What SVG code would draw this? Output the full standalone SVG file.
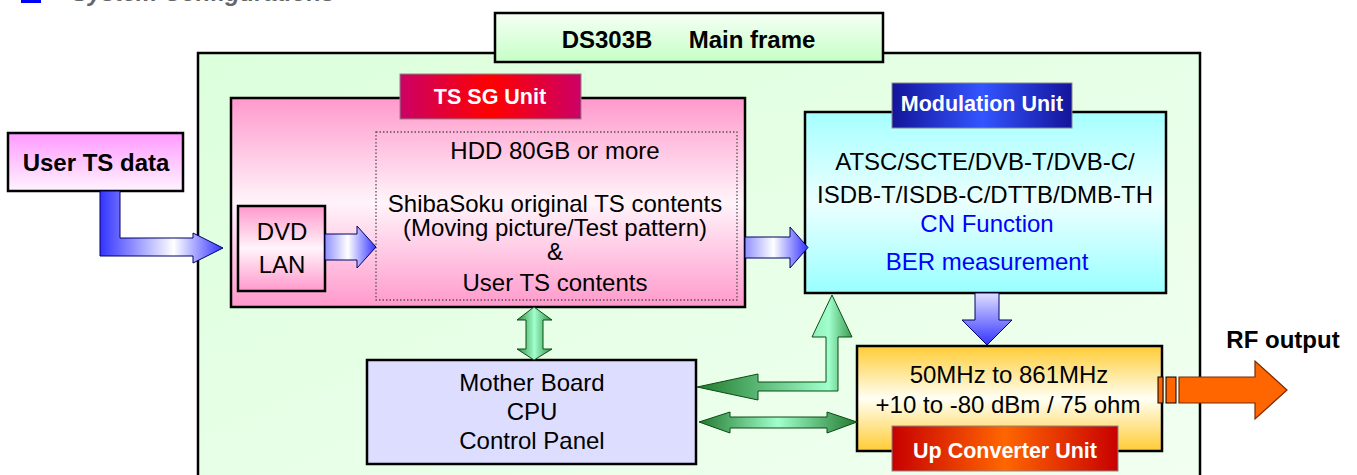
<svg xmlns="http://www.w3.org/2000/svg" width="1357" height="475" viewBox="0 0 1357 475">
<defs>
<linearGradient id="gFrame" x1="0" y1="0" x2="1" y2="1"><stop offset="0" stop-color="#dcffdc"/><stop offset="1" stop-color="#f2fff2"/></linearGradient>
<linearGradient id="gTitle" x1="0" y1="0" x2="0" y2="1"><stop offset="0" stop-color="#f6fff6"/><stop offset="1" stop-color="#c6ffc6"/></linearGradient>
<linearGradient id="gUser" x1="0" y1="0" x2="0" y2="1"><stop offset="0" stop-color="#ff99ff"/><stop offset="1" stop-color="#fff4ff"/></linearGradient>
<linearGradient id="gPink" x1="0" y1="0" x2="0" y2="1"><stop offset="0" stop-color="#ff99cc"/><stop offset="0.5" stop-color="#fff4fa"/><stop offset="1" stop-color="#ff99cc"/></linearGradient>
<linearGradient id="gCyan" x1="0" y1="0" x2="0" y2="1"><stop offset="0" stop-color="#a6ffff"/><stop offset="0.5" stop-color="#ecffff"/><stop offset="1" stop-color="#99ffff"/></linearGradient>
<linearGradient id="gOrange" x1="0" y1="0" x2="0" y2="1"><stop offset="0" stop-color="#ffcc33"/><stop offset="0.5" stop-color="#fffff4"/><stop offset="1" stop-color="#ffcc33"/></linearGradient>
<linearGradient id="gRed" x1="0" y1="0" x2="1" y2="0"><stop offset="0" stop-color="#cc0066"/><stop offset="0.5" stop-color="#ff0000"/><stop offset="1" stop-color="#cc0066"/></linearGradient>
<linearGradient id="gBlueLbl" x1="0" y1="0" x2="1" y2="0"><stop offset="0" stop-color="#14149a"/><stop offset="0.5" stop-color="#3355ff"/><stop offset="1" stop-color="#14149a"/></linearGradient>
<linearGradient id="gUpLbl" x1="0" y1="0" x2="1" y2="0"><stop offset="0" stop-color="#c80000"/><stop offset="0.5" stop-color="#ff6600"/><stop offset="1" stop-color="#c80000"/></linearGradient>
<linearGradient id="gBlueArrow" x1="0" y1="0" x2="1" y2="0"><stop offset="0" stop-color="#9090ff"/><stop offset="0.45" stop-color="#ffffff"/><stop offset="1" stop-color="#3333ff"/></linearGradient>
<linearGradient id="gBlueDown" x1="0" y1="0" x2="0" y2="1"><stop offset="0" stop-color="#e0e0ff"/><stop offset="1" stop-color="#3333ff"/></linearGradient>
<linearGradient id="gBent" gradientUnits="userSpaceOnUse" x1="100" y1="0" x2="223" y2="0"><stop offset="0" stop-color="#3333ff"/><stop offset="0.6" stop-color="#ffffff"/><stop offset="1" stop-color="#3333ff"/></linearGradient>
<linearGradient id="gGreenV" x1="0" y1="0" x2="1" y2="0"><stop offset="0" stop-color="#2e8b3e"/><stop offset="0.5" stop-color="#a0ffcc"/><stop offset="1" stop-color="#2e8b3e"/></linearGradient>
<linearGradient id="gGreenH" x1="0" y1="0" x2="1" y2="0"><stop offset="0" stop-color="#227a2e"/><stop offset="0.5" stop-color="#a0ffcc"/><stop offset="1" stop-color="#227a2e"/></linearGradient>
<linearGradient id="gGreenBent" gradientUnits="userSpaceOnUse" x1="697" y1="0" x2="852" y2="0"><stop offset="0" stop-color="#1f7a2a"/><stop offset="0.85" stop-color="#a0ffcc"/><stop offset="1" stop-color="#3c9a50"/></linearGradient>
<style>
.box{stroke:#000;stroke-width:2.5}
.lbl{stroke:#888;stroke-width:1}
.t{font-family:"Liberation Sans",Arial,sans-serif;font-size:24px;fill:#000;text-anchor:middle}
.tb{font-family:"Liberation Sans",Arial,sans-serif;font-size:24px;font-weight:bold;fill:#000;text-anchor:middle}
.tw{font-family:"Liberation Sans",Arial,sans-serif;font-size:21.5px;font-weight:bold;fill:#fff;text-anchor:middle}
.blue{fill:#0000ff}
.ba{stroke:#000066;stroke-width:1}
.ga{stroke:#0b4d14;stroke-width:1}
</style>
</defs>

<rect x="21" y="-18" width="20" height="21" fill="#0000ff"/>
<text x="72" y="0.5" font-family="Liberation Sans, Arial, sans-serif" font-size="24" font-weight="bold" font-style="italic" fill="#666">System Configurations</text>

<g id="mainframe">
<rect x="198" y="53" width="1002" height="440" fill="url(#gFrame)" class="box"/>
</g>
<g id="title">
<rect x="495" y="13" width="388" height="49" fill="url(#gTitle)" class="box"/>
<text class="tb" y="48" font-size="25.5"><tspan x="607">DS303B</tspan><tspan x="752">Main frame</tspan></text>
</g>

<g id="user-ts">
<rect x="8" y="133" width="175" height="58" fill="url(#gUser)" class="box"/>
<text class="tb" x="96" y="171">User TS data</text>
</g>

<g id="ts-sg-unit">
<rect x="231" y="98" width="514" height="209" fill="url(#gPink)" class="box"/>
<rect x="376" y="132" width="361" height="168" fill="none" stroke="#555" stroke-width="1.3" stroke-dasharray="1.5,2"/>
<text class="t" x="555" y="159">HDD 80GB or more</text>
<text class="t" x="555" y="212">ShibaSoku original TS contents</text>
<text class="t" x="555" y="236">(Moving picture/Test pattern)</text>
<text class="t" x="555" y="260">&amp;</text>
<text class="t" x="555" y="291">User TS contents</text>
<rect x="400" y="74" width="181" height="45" fill="url(#gRed)" class="lbl"/>
<text class="tw" x="490" y="104">TS SG Unit</text>
</g>

<g id="dvd-lan">
<rect x="238" y="206" width="87" height="85" fill="url(#gPink)" class="box"/>
<text class="t" x="282" y="240">DVD</text>
<text class="t" x="282" y="273">LAN</text>
</g>

<g id="modulation-unit">
<rect x="805" y="112" width="361" height="181" fill="url(#gCyan)" class="box"/>
<text class="t" x="985" y="170">ATSC/SCTE/DVB-T/DVB-C/</text>
<text class="t" x="985" y="203">ISDB-T/ISDB-C/DTTB/DMB-TH</text>
<text class="t blue" x="987" y="232">CN Function</text>
<text class="t blue" x="987" y="270">BER measurement</text>
<rect x="892" y="83" width="180" height="45" fill="url(#gBlueLbl)" class="lbl"/>
<text class="tw" x="982" y="111">Modulation Unit</text>
</g>

<g id="mother-board">
<rect x="367" y="360" width="329" height="104" fill="#ddddff" class="box"/>
<text class="t" x="532" y="391">Mother Board</text>
<text class="t" x="532" y="420">CPU</text>
<text class="t" x="532" y="449">Control Panel</text>
</g>

<g id="up-converter-unit">
<rect x="857" y="346" width="305" height="105" fill="url(#gOrange)" class="box"/>
<text class="t" x="1009" y="383" font-size="20.5">50MHz to 861MHz</text>
<text class="t" x="1008" y="413" font-size="20.5">+10 to -80 dBm / 75 ohm</text>
<rect x="892" y="426" width="226" height="45" fill="url(#gUpLbl)" class="lbl"/>
<text class="tw" x="1005" y="458">Up Converter Unit</text>
</g>

<g id="rf-output">
<rect x="1158" y="377" width="5" height="26" fill="#ff6600" stroke="#000" stroke-width="1"/>
<rect x="1166" y="377" width="10" height="26" fill="#ff6600" stroke="#000" stroke-width="1"/>
<text class="tb" x="1283" y="348" font-size="23">RF output</text>
</g>

<g id="connectors">
<polygon class="ba" fill="url(#gBent)" points="100,191 100,256 193,256 193,263 223,248 193,233 193,238 120,238 120,191"/>
<polygon class="ba" fill="url(#gBlueArrow)" points="325,234 357,234 357,226 376,247 357,268 357,260 325,260"/>
<polygon class="ba" fill="url(#gBlueArrow)" points="745,237 790,237 790,227 808,247.5 790,268 790,258 745,258"/>
<polygon class="ba" fill="url(#gBlueDown)" points="975,293 999,293 999,320 1012,320 987,345 962,320 975,320"/>
<polygon class="ga" fill="url(#gGreenV)" points="534,307 552,320 543,320 543,349 552,349 534,360 517,349 526,349 526,320 517,320"/>
<polygon class="ga" fill="url(#gGreenBent)" points="697,387 758,374 758,382 826,382 826,337 812,337 832,295 852,337 838,337 838,391 758,391 758,400"/>
<polygon class="ga" fill="url(#gGreenH)" points="699,422 730,412 730,417 827,417 827,412 857,422 827,433 827,428 730,428 730,433"/>
<polygon fill="#ff6600" stroke="#7a2a00" stroke-width="1.2" points="1179,377 1255,377 1255,361 1287,390 1255,419 1255,403 1179,403"/>
</g>
</svg>
